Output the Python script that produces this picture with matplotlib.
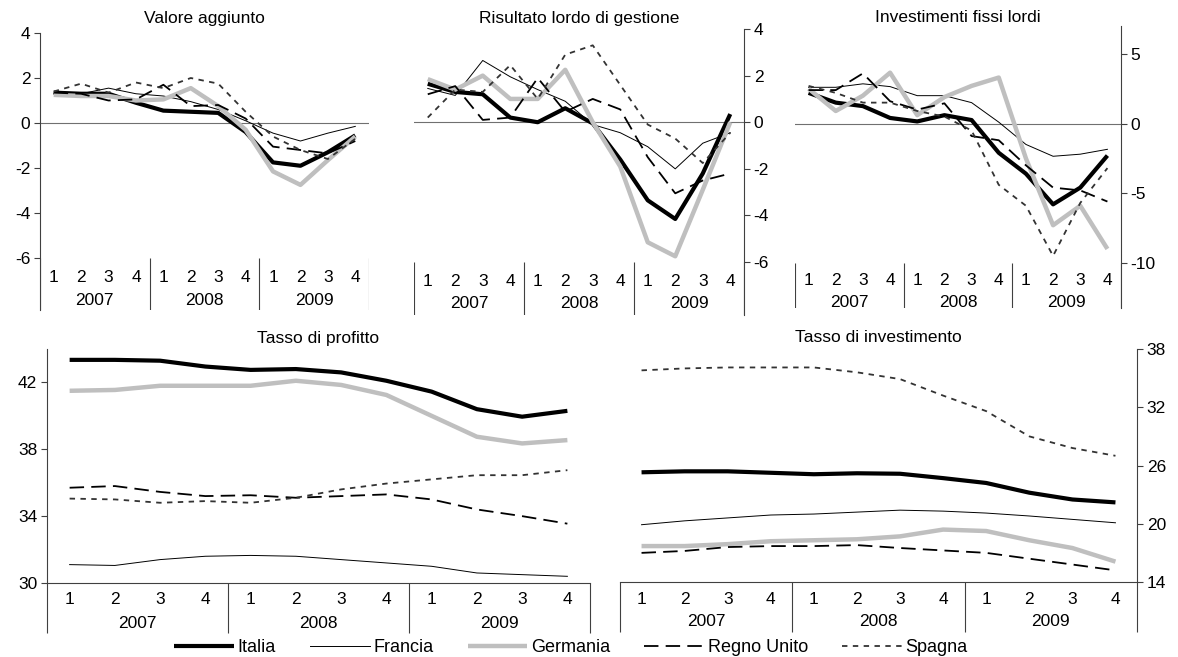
import numpy as np
import matplotlib
matplotlib.use("Agg")
import matplotlib.pyplot as plt

plt.rcParams['font.family'] = ['Liberation Sans', 'DejaVu Sans']
plt.rcParams['axes.unicode_minus'] = False

# quarters 2007Q1 .. 2009Q4
quarters = ['1', '2', '3', '4'] * 3
years = ['2007', '2008', '2009']
countries = ['Italia', 'Francia', 'Germania', 'Regno Unito', 'Spagna']

# Valore aggiunto
va_italia = [1.35, 1.3, 1.3, 0.9, 0.55, 0.5, 0.45, -0.4, -1.75, -1.9, -1.3, -0.55]
va_francia = [1.3, 1.3, 1.55, 1.3, 1.2, 0.95, 0.6, 0.1, -0.45, -0.8, -0.45, -0.15]
va_germania = [1.25, 1.2, 1.2, 1.0, 1.05, 1.55, 0.75, -0.3, -2.15, -2.75, -1.65, -0.6]
va_regno = [1.35, 1.3, 1.0, 1.05, 1.7, 0.75, 0.8, 0.2, -1.05, -1.2, -1.35, -0.8]
va_spagna = [1.4, 1.75, 1.35, 1.8, 1.55, 2.0, 1.75, 0.5, -0.6, -1.2, -1.6, -0.7]

# Risultato lordo di gestione
rl_italia = [1.65, 1.3, 1.2, 0.2, 0.0, 0.6, -0.05, -1.6, -3.35, -4.15, -2.2, 0.35]
rl_francia = [1.45, 1.15, 2.65, 1.95, 1.4, 0.9, -0.1, -0.45, -1.05, -2.0, -0.9, -0.45]
rl_germania = [1.85, 1.4, 2.0, 1.0, 1.0, 2.25, 0.0, -1.9, -5.15, -5.75, -2.9, 0.0]
rl_regno = [1.2, 1.55, 0.1, 0.2, 1.9, 0.45, 1.0, 0.55, -1.5, -3.05, -2.5, -2.2]
rl_spagna = [0.2, 1.4, 1.3, 2.45, 1.0, 2.9, 3.3, 1.6, -0.1, -0.7, -1.75, -0.45]

# Investimenti fissi lordi
ifl_italia = [2.2, 1.5, 1.25, 0.4, 0.15, 0.6, 0.25, -2.1, -3.6, -5.8, -4.6, -2.3]
ifl_francia = [2.6, 2.6, 2.85, 2.65, 2.0, 2.0, 1.5, 0.1, -1.5, -2.35, -2.2, -1.85]
ifl_germania = [2.5, 0.9, 2.0, 3.65, 0.6, 1.9, 2.7, 3.3, -2.5, -7.3, -5.9, -9.0]
ifl_regno = [2.4, 2.4, 3.6, 1.6, 1.0, 1.45, -0.9, -1.2, -3.0, -4.6, -4.8, -5.6]
ifl_spagna = [2.7, 2.2, 1.5, 1.5, 0.9, 0.5, -0.5, -4.4, -5.9, -9.5, -5.7, -3.2]

# Tasso di profitto
tp_italia = [43.35, 43.35, 43.3, 42.95, 42.75, 42.8, 42.6, 42.1, 41.45, 40.4, 39.95, 40.3]
tp_francia = [31.1, 31.05, 31.4, 31.6, 31.65, 31.6, 31.4, 31.2, 31.0, 30.6, 30.5, 30.4]
tp_germania = [41.5, 41.55, 41.8, 41.8, 41.8, 42.1, 41.85, 41.25, 40.0, 38.75, 38.35, 38.55]
tp_regno = [35.7, 35.8, 35.45, 35.2, 35.25, 35.1, 35.2, 35.3, 35.0, 34.4, 34.0, 33.55]
tp_spagna = [35.05, 35.0, 34.8, 34.9, 34.8, 35.1, 35.6, 35.95, 36.2, 36.45, 36.45, 36.75]

# Tasso di investimento
ti_italia = [25.3, 25.4, 25.4, 25.25, 25.1, 25.2, 25.15, 24.7, 24.2, 23.2, 22.5, 22.2]
ti_francia = [19.9, 20.3, 20.6, 20.9, 21.0, 21.2, 21.4, 21.3, 21.1, 20.8, 20.45, 20.1]
ti_germania = [17.7, 17.7, 17.9, 18.2, 18.3, 18.4, 18.7, 19.4, 19.25, 18.3, 17.5, 16.1]
ti_regno = [17.0, 17.2, 17.6, 17.7, 17.7, 17.8, 17.5, 17.25, 17.0, 16.4, 15.8, 15.2]
ti_spagna = [35.8, 36.0, 36.1, 36.1, 36.1, 35.6, 34.9, 33.2, 31.6, 29.0, 27.8, 27.0]

styles = [
    dict(color='black', lw=3.0, solid_capstyle='butt'),
    dict(color='black', lw=0.7),
    dict(color='#bfbfbf', lw=3.2, solid_capstyle='butt'),
    dict(color='black', lw=1.3, dashes=(8, 4)),
    dict(color='#333333', lw=1.3, dashes=(3, 3)),
]

W, H = 1178, 657
FS = 12.5
SPC = '#404040'
x = np.arange(12)
seps = [-0.5, 3.5, 7.5, 11.5]

fig = plt.figure(figsize=(W / 100, H / 100), dpi=100)


def rect(l, t, r, b):
    return [l / W, 1 - b / H, (r - l) / W, (b - t) / H]


def draw_lines(ax, series):
    lines = []
    for vals, st in zip(series, styles):
        ln, = ax.plot(x, vals, **st)
        lines.append(ln)
    return lines


def style_axis(ax, side):
    for s in ['top', 'bottom', 'left', 'right']:
        ax.spines[s].set_visible(False)
    ax.spines[side].set_visible(True)
    ax.spines[side].set_color(SPC)
    ax.spines[side].set_linewidth(0.8)
    if side == 'right':
        ax.yaxis.tick_right()
    ax.tick_params(axis='y', direction='out', length=4, color=SPC, labelsize=FS, pad=3)
    ax.set_xticks([])
    ax.set_xlim(-0.5, 11.5)
    ax.patch.set_visible(False)


def top_panel(box, series, title, ylim, yticks, ylow, qy, yy, side):
    ax = fig.add_axes(rect(*box))
    ax.axhline(0, color='#707070', lw=0.8, zorder=1)
    lines = draw_lines(ax, series)
    style_axis(ax, side)
    ax.set_ylim(*ylim)
    ax.set_yticks(yticks)
    ax.vlines(seps, ylim[0], ylow, color=SPC, lw=0.8)
    for i, q in enumerate(quarters):
        ax.text(x[i], qy, q, ha='center', va='center', fontsize=FS)
    for j, yr in enumerate(years):
        ax.text(4 * j + 1.5, yy, yr, ha='center', va='center', fontsize=FS)
    fig.text((box[0] + box[2]) / 2 / W, 1 - 18 / H, title, ha='center', va='center', fontsize=FS)
    return lines


def bottom_panel(box, series, title, ylim, yticks, side):
    ax = fig.add_axes(rect(*box))
    lines = draw_lines(ax, series)
    style_axis(ax, side)
    ax.spines['bottom'].set_visible(True)
    ax.spines['bottom'].set_color(SPC)
    ax.spines['bottom'].set_linewidth(0.8)
    ax.set_ylim(*ylim)
    ax.set_yticks(yticks)
    hpx = box[3] - box[1]
    tr = ax.get_xaxis_transform()
    ax.vlines(seps, -50 / hpx, 0, transform=tr, color=SPC, lw=0.8, clip_on=False)
    for i, q in enumerate(quarters):
        ax.text(x[i], -17 / hpx, q, transform=tr, ha='center', va='center', fontsize=FS)
    for j, yr in enumerate(years):
        ax.text(4 * j + 1.5, -40 / hpx, yr, transform=tr, ha='center', va='center', fontsize=FS)
    fig.text((box[0] + box[2]) / 2 / W, 1 - 338 / H, title, ha='center', va='center', fontsize=FS)
    return lines


top_panel((40, 33, 369, 310), [va_italia, va_francia, va_germania, va_regno, va_spagna],
          'Valore aggiunto', (-8.31, 4), [-6, -4, -2, 0, 2, 4], -6, -6.85, -7.87, 'left')
top_panel((414, 29, 744, 315), [rl_italia, rl_francia, rl_germania, rl_regno, rl_spagna],
          'Risultato lordo di gestione', (-8.27, 4), [-6, -4, -2, 0, 2, 4], -6, -6.82, -7.77, 'right')
top_panel((795, 26, 1121, 308), [ifl_italia, ifl_francia, ifl_germania, ifl_regno, ifl_spagna],
          'Investimenti fissi lordi', (-13.24, 7), [-10, -5, 0, 5], -10, -11.27, -12.85, 'right')

lines = bottom_panel((47, 349, 590, 583), [tp_italia, tp_francia, tp_germania, tp_regno, tp_spagna],
                     'Tasso di profitto', (30, 44), [30, 34, 38, 42], 'left')
bottom_panel((620, 349, 1137, 582), [ti_italia, ti_francia, ti_germania, ti_regno, ti_spagna],
             'Tasso di investimento', (14, 38), [14, 20, 26, 32, 38], 'right')

fig.legend(lines, countries, loc='center', bbox_to_anchor=(571 / W, 1 - 648 / H), ncol=5,
           frameon=False, fontsize=13, handlelength=3.3, handletextpad=0.2, columnspacing=1.9,
           borderpad=0, borderaxespad=0)

fig.savefig('out.png', dpi=100)
